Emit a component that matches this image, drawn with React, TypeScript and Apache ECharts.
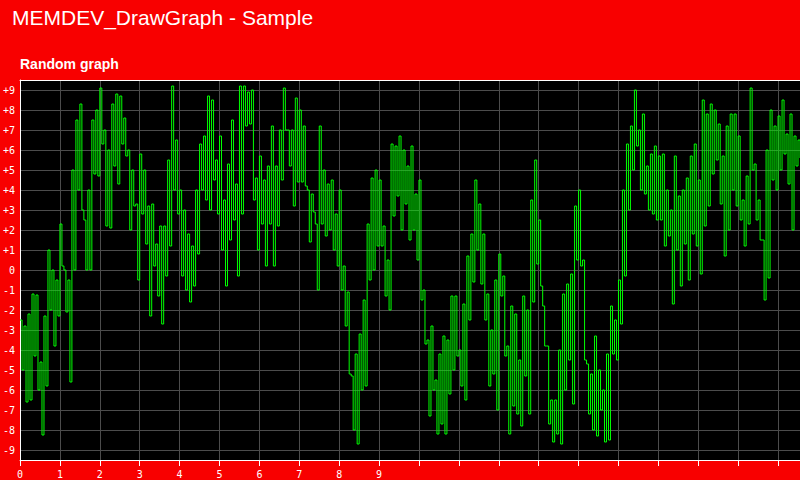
import { useEffect, useRef } from 'react';
import * as echarts from 'echarts';

const TITLE = 'MEMDEV_DrawGraph - Sample';
const SUBTITLE = 'Random graph';
const xTickLabels = ['0', '1', '2', '3', '4', '5', '6', '7', '8', '9'];
const yTickValues = [-9, -8, -7, -6, -5, -4, -3, -2, -1, 0, 1, 2, 3, 4, 5, 6, 7, 8, 9];
const X_MAX = 19.55;
const SAMPLE_STEP = 0.05;

// upper and lower extremes of the trace, one pair per 0.1 x-unit
const hiValues = [
  -2.5, -2.8, -2.2, -1.2, -1.25, -4.6, -2.3, 1.0, 0, -0.5,
  2.3, 0, -0.5, 5, 7.5, 8.3, 2.5, 4.0, 7.5, 8,
  9.1, 7, 6, 8.3, 8.8, 8.7, 7.6, 6, 5, 3.3,
  5.8, 5, 3.2, 3.3, 1.3, 2.2, 2.2, 5.5, 9.2, 6.5,
  4, 3, 1.8, 1.2, 4.0, 6.3, 6.7, 8.7, 8.5, 5.5,
  6.7, 3.5, 5.3, 7.5, 4.3, 9.2, 9.2, 8.9, 9, 4.6,
  5.7, 4.5, 5.2, 7.2, 5.2, 7, 9.1, 7, 7, 8.6,
  8, 7.2, 4, 3.8, 2.3, 7.2, 5, 4.3, 4.5, 2.8,
  4, 0.2, -1.1, -5.3, -4.2, -3.2, -1.5, 2.3, 4.6, 5,
  4.5, 2.2, 0.5, 6.3, 6.2, 6.7, 6, 5.2, 6.2, 3.8,
  4.5, -1, -3.5, -2.8, -5.5, -4.2, -3.3, -3.5, -1.3, -1.3,
  -4, -1.7, 0.7, 1.8, 4.5, 3.3, 1.8, -1.2, -3, -0.5,
  0.8, -0.3, -3.8, -1.8, -2.2, -4.5, -1.3, -2, 3.5, 5.5,
  2.5, -1.8, -3.8, -6.5, -6.5, -4, -1.2, -0.7, -0.2, 3.2,
  4, 0.5, -4.7, -5.2, -3.3, -5, -6, -4.2, -1.8, -2.5,
  -0.5, 4, 6.3, 7.2, 9, 7, 7.8, 5.2, 5.8, 6.2,
  5.7, 5.8, 4, 3, 5.7, 3.7, 4, 4.6, 5.7, 6.3,
  4.5, 8.5, 7.8, 8.3, 8, 7.3, 5.7, 7.2, 7.8, 7.8,
  6.7, 3.5, 4.7, 9.1, 5.3, 3.5, 1.5, 6, 8, 7.2,
  7.7, 8.5, 6.8, 7.8, 6.7, 6.5,
];

const loValues = [
  -5.0, -6.6, -6.5, -4.3, -6.0, -8.25, -5.8, -2.0, -3.8, -2.3,
  0.2, -2.1, -5.6, 0, 4, 3, 0, 0, 4.8, 4.7,
  6.3, 2.2, 2.1, 5.2, 4.3, 6.3, 5.7, 2, 3.2, -0.5,
  2.8, 1.3, -2.3, 0.2, -1.3, -2.7, -0.3, 1.2, 4, 2.8,
  -0.3, -1, -1.6, -0.8, 0.8, 4, 3.5, 3, 4.5, 2.8,
  1, -0.8, 1.5, 2.5, -0.3, 2.8, 7.2, 7.3, 3.5, 1,
  2.3, 0.2, 2.3, 0.2, 2.2, 4.5, 7, 5.2, 3.2, 4.4,
  4.4, 4.2, 1.4, 2.9, -1, 2.3, 1.7, 2, 1, 0.2,
  -1, -2.8, -5.2, -8, -8.7, -6, -5.8, -0.5, 0, 1.2,
  1.2, -1.3, -2, 2.7, 3.7, 2, 3.3, 1.5, 2, 0.5,
  -1.5, -3.7, -7.3, -6, -8.2, -7.7, -8.2, -6.2, -5, -4.3,
  -5.8, -6.5, -2.5, -0.6, 1, -0.7, -2.5, -5.8, -5.2, -7,
  -1.3, -4.3, -8.2, -6.8, -7.2, -7.8, -5.3, -7.2, -1.6, 0.3,
  -0.8, -3.8, -7.7, -8.6, -8.2, -8.7, -6, -4.5, -6.7, 0.5,
  0.2, -4.5, -7.2, -8, -8.3, -7, -8.6, -8.5, -4.2, -4.5,
  -2.7, -0.3, 3, 5, 6.2, 4, 3.8, 3, 2.8, 2.5,
  2.5, 1.2, 1.7, -1.7, 1, -0.8, 1.3, -0.5, 1.8, 1.2,
  -0.2, 2.2, 3.2, 4.8, 5.5, 3.3, 0.7, 2, 4, 3.2,
  2.5, 1.2, 2.3, 5, 2.5, 1.5, -1.5, -0.4, 4.5, 4,
  5, 5.8, 4.3, 2, 5.2, 5.6,
];

const RED = '#f80000';
const GRID_GRAY = '#4c4c4c';
const TRACE = '#00ff00';
const LABEL_FONT = 'DejaVu Sans Mono';

export default function App() {
  const ref = useRef<HTMLDivElement>(null);

  useEffect(() => {
    if (!ref.current) return;
    const chart = echarts.init(ref.current, undefined, { renderer: 'svg' });

    const data: [number, number][] = [];
    for (let i = 0; i < hiValues.length; i++) {
      data.push([2 * i * SAMPLE_STEP, hiValues[i]]);
      data.push([(2 * i + 1) * SAMPLE_STEP, loValues[i]]);
    }

    chart.setOption({
      animation: false,
      backgroundColor: RED,
      grid: {
        left: 18,
        right: 0,
        top: 80,
        bottom: 20,
        show: true,
        backgroundColor: '#000000',
        borderWidth: 0,
        containLabel: false,
      },
      xAxis: [
        {
          type: 'value',
          min: 0,
          max: X_MAX,
          interval: 1,
          position: 'bottom',
          axisLine: { show: true, onZero: false, lineStyle: { color: '#ffffff', width: 1 } },
          axisTick: { show: true, length: 6, lineStyle: { color: '#ffffff', width: 1 } },
          axisLabel: {
            color: '#ffffff',
            fontFamily: LABEL_FONT,
            fontSize: 10,
            margin: 9,
            showMaxLabel: false,
            formatter: (v: number) =>
              Number.isInteger(v) && v < xTickLabels.length ? xTickLabels[v] : '',
          },
          splitLine: { show: true, lineStyle: { color: GRID_GRAY, width: 1 } },
        },
        {
          type: 'value',
          min: 0,
          max: X_MAX,
          position: 'top',
          axisLine: { show: true, onZero: false, lineStyle: { color: '#ffffff', width: 1 } },
          axisTick: { show: false },
          axisLabel: { show: false },
          splitLine: { show: false },
        },
      ],
      yAxis: {
        type: 'value',
        min: -9.5,
        max: 9.5,
        axisLine: { show: true, onZero: false, lineStyle: { color: '#ffffff', width: 1 } },
        axisTick: { show: false, customValues: yTickValues },
        axisLabel: {
          customValues: yTickValues,
          color: '#ffffff',
          fontFamily: LABEL_FONT,
          fontSize: 10,
          margin: 5,
          formatter: (v: number) => (v > 0 ? '+' + v : String(v)),
        },
        splitLine: { show: true, lineStyle: { color: GRID_GRAY, width: 1 } },
      },
      graphic: [
        {
          type: 'text',
          left: 12,
          top: 7,
          style: {
            text: TITLE,
            fill: '#ffffff',
            font: '21px "Liberation Sans", Arial, sans-serif',
          },
        },
        {
          type: 'text',
          left: 20,
          top: 57,
          style: {
            text: SUBTITLE,
            fill: '#ffffff',
            font: 'bold 14px "Liberation Sans", Arial, sans-serif',
          },
        },
      ],
      series: [
        {
          type: 'line',
          xAxisIndex: 0,
          data,
          step: 'end',
          symbol: 'none',
          silent: true,
          lineStyle: { color: TRACE, width: 1 },
        },
      ],
    });

    return () => chart.dispose();
  }, []);

  return (
    <div
      ref={ref}
      style={{ position: 'fixed', left: 0, top: 0, width: 800, height: 480 }}
    />
  );
}
